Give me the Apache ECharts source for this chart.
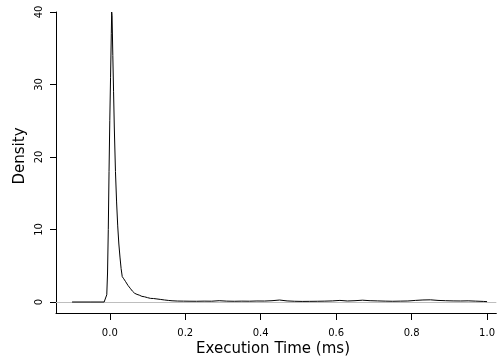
<!DOCTYPE html>
<html>
<head>
<meta charset="utf-8">
<script src="https://cdn.jsdelivr.net/npm/echarts@6/dist/echarts.min.js"></script>
<style>html,body{margin:0;padding:0;background:#fff}#c{width:498px;height:362px}</style>
</head>
<body>
<div id="c"></div>
<script>
var times = [-0.10,-0.05,-0.015,-0.011,-0.008,-0.006,-0.004,-0.002,0.000,0.002,0.004,0.005,0.006,0.008,0.010,0.012,0.015,0.018,0.021,0.024,0.027,0.030,0.033,0.037,0.042,0.048,0.054,0.060,0.066,0.072,0.078,0.085,0.092,0.100,0.108,0.116,0.125,0.135,0.145,0.155,0.165,0.18,0.195,0.21,0.23,0.25,0.27,0.29,0.31,0.33,0.35,0.37,0.39,0.41,0.43,0.45,0.47,0.49,0.51,0.53,0.55,0.57,0.59,0.61,0.63,0.65,0.67,0.69,0.71,0.73,0.75,0.77,0.79,0.81,0.83,0.85,0.87,0.89,0.91,0.93,0.95,0.97,0.99,1.00];
var density = [0,0,0,0.1,1.0,4.0,10,18,25,31,37,40,39.5,34,29,24,18,13.8,10.5,8,6.2,4.6,3.5,3.2,2.8,2.3,1.9,1.5,1.2,1.05,0.95,0.78,0.72,0.6,0.5,0.48,0.42,0.35,0.28,0.22,0.17,0.13,0.12,0.11,0.10,0.12,0.11,0.18,0.12,0.10,0.12,0.11,0.14,0.13,0.18,0.27,0.15,0.10,0.08,0.09,0.10,0.12,0.15,0.22,0.14,0.18,0.25,0.18,0.15,0.12,0.10,0.12,0.14,0.22,0.28,0.30,0.22,0.18,0.15,0.14,0.16,0.12,0.08,0.05];
var xTicks = [0.0,0.2,0.4,0.6,0.8,1.0];
var yTicks = [0,10,20,30,40];
var xTitle = 'Execution Time (ms)';
var yTitle = 'Density';

var pts = times.map(function(t,i){return [t, density[i]];});
var font = 'DejaVu Sans';
var chart = echarts.init(document.getElementById('c'), null, {renderer:'canvas'});
chart.setOption({
  animation:false,
  backgroundColor:'#fff',
  grid:{left:56, right:0, top:12, bottom:49, containLabel:false},
  xAxis:{
    type:'value', min:-0.1426, max:1.0246,
    splitLine:{show:false},
    axisLine:{show:true, onZero:false, lineStyle:{color:'#000', width:1}},
    axisTick:{show:true, length:7, inside:false, customValues:xTicks, lineStyle:{color:'#000'}},
    axisLabel:{show:true, customValues:xTicks, margin:15, color:'#000', fontFamily:font, fontSize:10,
      formatter:function(v){return v.toFixed(1);}}
  },
  yAxis:{
    type:'value', min:-1.517, max:40,
    splitLine:{show:false},
    axisLine:{show:true, onZero:false, lineStyle:{color:'#000', width:1}},
    axisTick:{show:true, length:6, inside:false, customValues:yTicks, lineStyle:{color:'#000'}},
    axisLabel:{show:true, customValues:yTicks, rotate:90, margin:12, color:'#000', fontFamily:font, fontSize:10,
      formatter:function(v){return String(v);}}
  },
  graphic:[
    {type:'text', x:273, y:349, style:{text:xTitle, fill:'#000', font:'15px "DejaVu Sans"', textAlign:'center', textVerticalAlign:'middle'}},
    {type:'text', x:20, y:156, rotation:Math.PI/2, style:{text:yTitle, fill:'#000', font:'15px "DejaVu Sans"', textAlign:'center', textVerticalAlign:'middle'}}
  ],
  series:[{
    type:'line', data:pts, showSymbol:false, smooth:false,
    lineStyle:{color:'#000', width:1},
    markLine:{silent:true, symbol:['none','none'], label:{show:false},
      lineStyle:{color:'#bebebe', width:1, type:'solid'},
      data:[{yAxis:0}], z:1},
    z:3
  }]
});
</script>
</body>
</html>
